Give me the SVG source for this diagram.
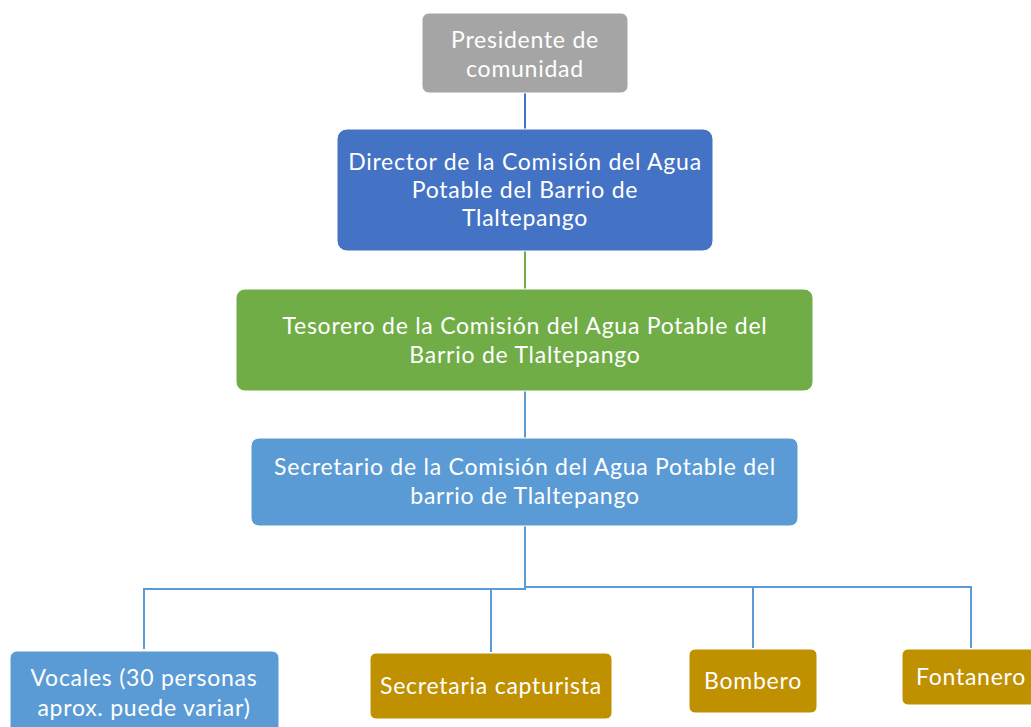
<svg xmlns="http://www.w3.org/2000/svg" width="1031" height="727" viewBox="0 0 1031 727">
<style>
.t{font-family:Lato,"Open Sans","Liberation Sans",sans-serif;font-size:23px;letter-spacing:0.75px;fill:#ffffff;text-anchor:middle}
.b{stroke:#ffffff;stroke-width:1}
.c{fill:none;stroke-width:2}
</style>
<rect width="1031" height="727" fill="#ffffff"/>
<g id="connectors">
<line class="c" x1="525" y1="93" x2="525" y2="130" stroke="#4472C4"/>
<line class="c" x1="525" y1="251" x2="525" y2="289" stroke="#70AD47"/>
<line class="c" x1="525" y1="391" x2="525" y2="438" stroke="#5B9BD5"/>
<polyline class="c" points="525,526 525,589 144,589 144,649" stroke="#5B9BD5"/>
<polyline class="c" points="491,589 491,652" stroke="#5B9BD5"/>
<polyline class="c" points="525,587 971,587 971,648" stroke="#5B9BD5"/>
<polyline class="c" points="753,587 753,648" stroke="#5B9BD5"/>
</g>
<g id="presidente">
<rect class="b" x="422" y="13" width="206" height="80" rx="7" fill="#A5A5A5"/>
<text class="t" x="525" y="48">Presidente de</text>
<text class="t" x="525" y="77">comunidad</text>
</g>
<g id="director">
<rect class="b" x="337" y="129" width="376" height="122" rx="10" fill="#4472C4"/>
<text class="t" x="525" y="170">Director de la Comisión del Agua</text>
<text class="t" x="525" y="198">Potable del Barrio de</text>
<text class="t" x="525" y="226">Tlaltepango</text>
</g>
<g id="tesorero">
<rect class="b" x="236" y="289" width="577" height="102" rx="9" fill="#70AD47"/>
<text class="t" x="525" y="334">Tesorero de la Comisión del Agua Potable del</text>
<text class="t" x="525" y="363">Barrio de Tlaltepango</text>
</g>
<g id="secretario">
<rect class="b" x="251" y="438" width="547" height="88" rx="8" fill="#5B9BD5"/>
<text class="t" x="525" y="475">Secretario de la Comisión del Agua Potable del</text>
<text class="t" x="525" y="504">barrio de Tlaltepango</text>
</g>
<g id="vocales">
<rect class="b" x="10" y="651" width="269" height="90" rx="7" fill="#5B9BD5"/>
<text class="t" x="144" y="686">Vocales (30 personas</text>
<text class="t" x="144" y="716">aprox. puede variar)</text>
</g>
<g id="secretaria">
<rect class="b" x="370" y="653" width="242" height="66" rx="6" fill="#BF9000"/>
<text class="t" x="491" y="694">Secretaria capturista</text>
</g>
<g id="bombero">
<rect class="b" x="689" y="649" width="128" height="64" rx="6" fill="#BF9000"/>
<text class="t" x="753" y="689">Bombero</text>
</g>
<g id="fontanero">
<rect class="b" x="902" y="649" width="140" height="56" rx="6" fill="#BF9000"/>
<text class="t" x="971" y="685">Fontanero</text>
</g>
</svg>
